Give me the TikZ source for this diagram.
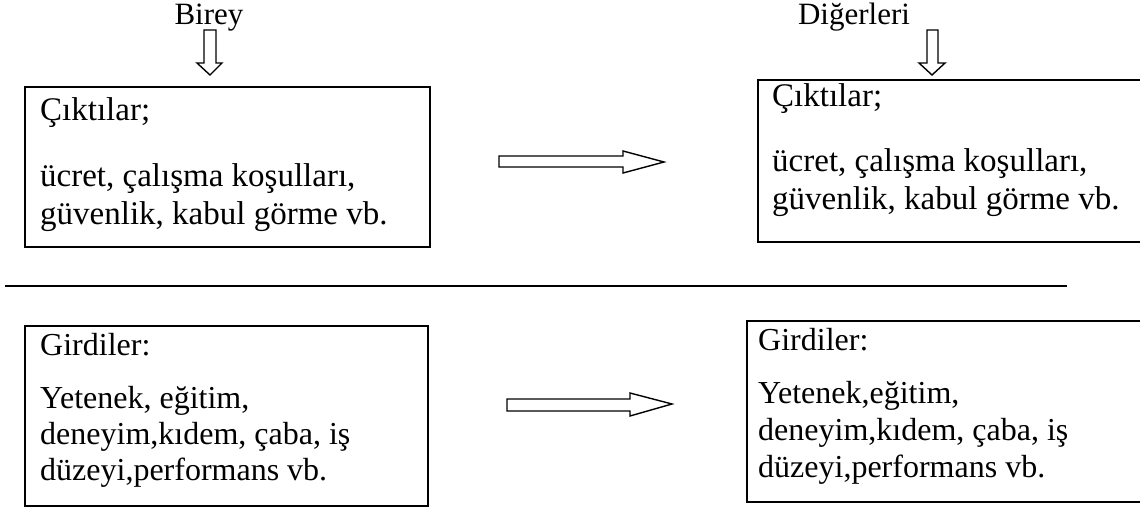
\documentclass[tikz,border=0pt]{standalone}
\usepackage{fontspec}
\setmainfont{Liberation Serif}
\begin{document}
\begin{tikzpicture}[x=1pt,y=-1pt,
  frame/.style={draw=black,line width=2pt},
  blockarrow/.style={draw=black,line width=1.4pt,fill=white,line join=miter},
  txt/.style={anchor=base west,inner sep=0pt,font=\fontsize{33}{38}\selectfont},
  txtb/.style={anchor=base west,inner sep=0pt,font=\fontsize{32}{38}\selectfont},
  head/.style={anchor=base,inner sep=0pt,font=\fontsize{31}{36}\selectfont}]
\useasboundingbox (0,0) rectangle (1140,508);
\clip (0,0) rectangle (1140,508);

% column headings
\node[head] (birey) at (209,25) {Birey};
\node[head] (digerleri) at (854,25) {Diğerleri};

% downward block arrows under the headings
\draw[blockarrow] (204,30) -- (216,30) -- (216,63) -- (222,63) -- (210,75)
  -- (197,63) -- (204,63) -- cycle;
\draw[blockarrow] (927,30) -- (938,30) -- (938,63) -- (945,63) -- (932,75)
  -- (919,63) -- (927,63) -- cycle;

% outputs boxes
\draw[frame] (25,87) rectangle (430,247);
\node[txt] (tl1) at (40,121) {Çıktılar;};
\node[txt] (tl2) at (40,186) {ücret, çalışma koşulları,};
\node[txt] (tl3) at (40,224) {güvenlik, kabul görme vb.};

\draw[frame] (758,80) rectangle (1150,242);
\node[txt] (tr1) at (772,107) {Çıktılar;};
\node[txt] (tr2) at (772,171) {ücret, çalışma koşulları,};
\node[txt] (tr3) at (772,209) {güvenlik, kabul görme vb.};

% block arrow between the outputs boxes
\draw[blockarrow] (499,156) -- (623,156) -- (623,151) -- (664,162) -- (623,173)
  -- (623,167) -- (499,167) -- cycle;

% separating rule
\draw[line width=2pt] (5,285.5) -- (1067,285.5);

% inputs boxes
\draw[frame] (25,326) rectangle (428,506);
\node[txtb] (bl1) at (40,355) {Girdiler:};
\node[txtb] (bl2) at (40,408) {Yetenek, eğitim,};
\node[txtb] (bl3) at (40,444) {deneyim,kıdem, çaba, iş};
\node[txtb] (bl4) at (40,480) {düzeyi,performans vb.};

\draw[frame] (747,321) rectangle (1150,502);
\node[txtb] (br1) at (758,350) {Girdiler:};
\node[txtb] (br2) at (758,403) {Yetenek,eğitim,};
\node[txtb] (br3) at (758,440) {deneyim,kıdem, çaba, iş};
\node[txtb] (br4) at (758,477) {düzeyi,performans vb.};

% block arrow between the inputs boxes
\draw[blockarrow] (507,399) -- (630,399) -- (630,393) -- (672,404) -- (630,416)
  -- (630,411) -- (507,411) -- cycle;
\end{tikzpicture}
\end{document}
